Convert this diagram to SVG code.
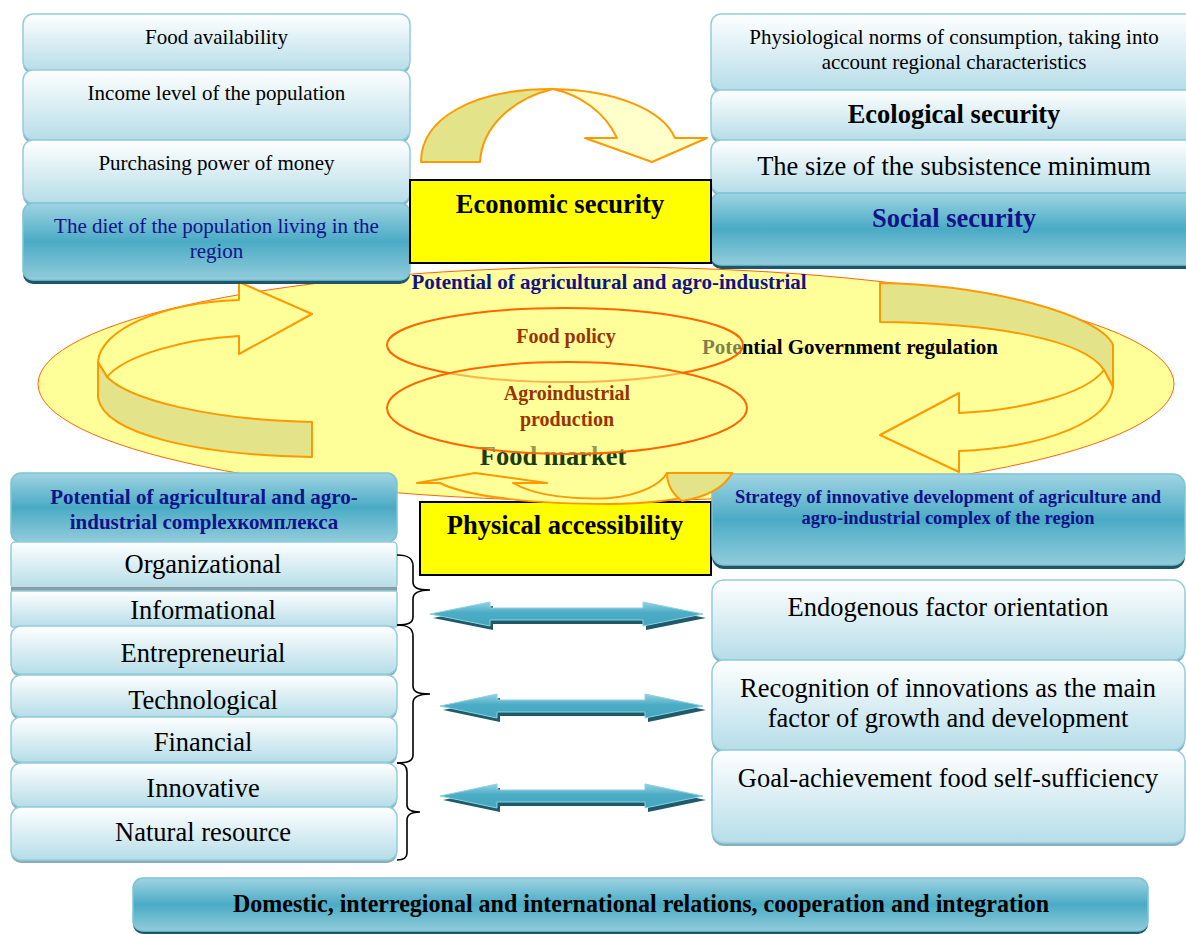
<svg xmlns="http://www.w3.org/2000/svg" width="1186" height="934" viewBox="0 0 1186 934">
<defs>
<linearGradient id="lg" x1="0" y1="0" x2="0" y2="1">
<stop offset="0" stop-color="#ffffff"/><stop offset="1" stop-color="#b6dde8"/>
</linearGradient>
<linearGradient id="dg" x1="0" y1="0" x2="0" y2="1">
<stop offset="0" stop-color="#a0d4e2"/><stop offset="0.5" stop-color="#4aabc5"/><stop offset="1" stop-color="#92ccdb"/>
</linearGradient>
<linearGradient id="ag" x1="0" y1="0" x2="0" y2="1">
<stop offset="0" stop-color="#92d2e2"/><stop offset="0.45" stop-color="#4bacc6"/><stop offset="1" stop-color="#45a6c0"/>
</linearGradient>
<style>
.lb{fill:url(#lg);stroke:#93cddd;stroke-width:1.5}
.db{fill:url(#dg);stroke:#7cc3d6;stroke-width:1.5}
.ls{fill:#86aebb}
.ds{fill:#1f5666}
.yb{fill:#ffff00;stroke:#000;stroke-width:2}
.t{font-family:"Liberation Serif","Times New Roman",serif;text-anchor:middle;fill:#000}
.b{font-weight:bold}
.nv{fill:#12128a}
.s21{font-size:21px}
.s26{font-size:26.5px}
.rib{stroke:#ff9900;stroke-width:2;stroke-linejoin:round}
.back{fill:#ffff99}
.front{fill:#e3e38a}
.ie{fill:#ffff99;fill-opacity:0.5;stroke:#ff6600;stroke-width:2}
.br{fill:none;stroke:#000;stroke-width:1.6}
.dash{fill:#1f5a6a}
.dar{fill:url(#ag);stroke:#8fd0e0;stroke-width:1}
</style>
</defs>

<g id="central-ellipse">
<ellipse cx="606" cy="384" rx="568" ry="117" fill="#ffff99" stroke="#ff6600" stroke-width="1"/>
</g>

<g id="cycle-arrows">
<path class="rib back" d="M239,282 L312,314 L239,354 L239,336 C185,339 125,355 107,377 L98,362 C100,330 160,303 239,300 Z"/>
<path class="rib front" d="M98,362 L98,398 C105,435 200,455 312,457 L312,422 C210,420 130,400 107,377 Z"/>
<path class="rib front" d="M880,283 C990,285 1100,315 1113,345 L1113,387 L1104,370 C1085,340 995,323 880,322 Z"/>
<path class="rib back" d="M1113,387 C1110,420 1050,447 959,451 L959,472 L880,435 L959,393 L959,413 C1020,410 1085,395 1104,370 Z"/>
</g>

<g id="potential-label">
<text class="t b nv s21" x="609" y="289">Potential of agricultural and agro-industrial</text>
</g>
<g id="government-regulation">
<text class="t b s21" x="850" y="354">Potential Government regulation</text>
</g>
<g id="food-market">
<text class="t b s26" x="553" y="465" style="fill:#1b3d0c">Food market</text>
</g>

<g id="food-policy">
<ellipse class="ie" cx="565" cy="345" rx="178" ry="37"/>
</g>
<g id="agroindustrial-production">
<ellipse class="ie" cx="567" cy="408" rx="180" ry="46"/>
</g>
<text class="t b" x="566" y="343" style="fill:#993300;font-size:20px">Food policy</text>
<text class="t b" x="567" y="400" style="fill:#993300;font-size:20px">Agroindustrial</text>
<text class="t b" x="567" y="426" style="fill:#993300;font-size:20px">production</text>

<g id="food-availability">
<rect class="ls" x="23" y="17" width="387" height="57" rx="10"/>
<rect class="lb" x="23" y="14" width="387" height="57" rx="10"/>
<text class="t s21" x="216.5" y="44">Food availability</text>
</g>
<g id="income-level">
<rect class="ls" x="23" y="73" width="387" height="70" rx="10"/>
<rect class="lb" x="23" y="70" width="387" height="70" rx="10"/>
<text class="t s21" x="216.5" y="100">Income level of the population</text>
</g>
<g id="purchasing-power">
<rect class="ls" x="23" y="143" width="387" height="63" rx="10"/>
<rect class="lb" x="23" y="140" width="387" height="63" rx="10"/>
<text class="t s21" x="216.5" y="170">Purchasing power of money</text>
</g>
<g id="diet">
<rect class="ds" x="23" y="207" width="387" height="77" rx="10"/>
<rect class="db" x="23" y="203" width="387" height="77" rx="10"/>
<text class="t s21 nv" x="216.5" y="233">The diet of the population living in the</text>
<text class="t s21 nv" x="216.5" y="258">region</text>
</g>

<g id="physiological-norms">
<rect class="ls" x="711" y="17" width="486" height="76" rx="10"/>
<rect class="lb" x="711" y="14" width="486" height="76" rx="10"/>
<text class="t s21" x="954" y="44">Physiological norms of consumption, taking into</text>
<text class="t s21" x="954" y="69">account regional characteristics</text>
</g>
<g id="ecological-security">
<rect class="ls" x="711" y="93" width="486" height="50" rx="10"/>
<rect class="lb" x="711" y="90" width="486" height="50" rx="10"/>
<text class="t b s26" x="954" y="123">Ecological security</text>
</g>
<g id="subsistence-minimum">
<rect class="ls" x="711" y="143" width="486" height="53" rx="10"/>
<rect class="lb" x="711" y="140" width="486" height="53" rx="10"/>
<text class="t s26" x="954" y="175">The size of the subsistence minimum</text>
</g>
<g id="social-security">
<rect class="ds" x="711" y="197" width="486" height="72" rx="10"/>
<rect class="db" x="711" y="193" width="486" height="72" rx="10"/>
<text class="t b s26 nv" x="954" y="227">Social security</text>
</g>

<g id="economic-security">
<rect class="yb" x="410" y="180" width="301" height="83"/>
<text class="t b s26" x="560" y="213">Economic security</text>
</g>

<g id="agro-potential-header">
<rect class="ds" x="11" y="477" width="386" height="66" rx="10"/>
<rect class="db" x="11" y="473" width="386" height="69" rx="10"/>
<text class="t b s21 nv" x="204" y="504">Potential of agricultural and agro-</text>
<text class="t b s21 nv" x="204" y="529">industrial complexкомплекса</text>
</g>
<g id="organizational">
<rect class="lb" x="11" y="542" width="386" height="46" rx="4"/>
<rect x="11" y="587" width="386" height="4" fill="#8a9ea6"/>
<text class="t s26" x="203" y="573">Organizational</text>
</g>
<g id="informational">
<rect class="lb" x="11" y="591" width="386" height="36" rx="2"/>
<text class="t s26" x="203" y="619">Informational</text>
</g>
<g id="entrepreneurial">
<rect class="ls" x="11" y="629" width="386" height="48" rx="10"/>
<rect class="lb" x="11" y="626" width="386" height="48" rx="10"/>
<text class="t s26" x="203" y="662">Entrepreneurial</text>
</g>
<g id="technological">
<rect class="ls" x="11" y="678" width="386" height="42" rx="10"/>
<rect class="lb" x="11" y="675" width="386" height="42" rx="10"/>
<text class="t s26" x="203" y="709">Technological</text>
</g>
<g id="financial">
<rect class="ls" x="11" y="720" width="386" height="45" rx="10"/>
<rect class="lb" x="11" y="717" width="386" height="45" rx="10"/>
<text class="t s26" x="203" y="751">Financial</text>
</g>
<g id="innovative">
<rect class="ls" x="11" y="766" width="386" height="44" rx="10"/>
<rect class="lb" x="11" y="763" width="386" height="44" rx="10"/>
<text class="t s26" x="203" y="797">Innovative</text>
</g>
<g id="natural-resource">
<rect class="ls" x="11" y="810" width="386" height="53" rx="10"/>
<rect class="lb" x="11" y="807" width="386" height="53" rx="10"/>
<text class="t s26" x="203" y="841">Natural resource</text>
</g>

<g id="physical-accessibility">
<rect class="yb" x="420" y="502" width="291" height="73"/>
<text class="t b s26" x="565" y="534">Physical accessibility</text>
</g>

<g id="strategy">
<rect class="ds" x="712" y="478" width="473" height="91" rx="12"/>
<rect class="db" x="712" y="474" width="473" height="91" rx="12"/>
<text class="t b nv" x="948" y="503" style="font-size:18.5px">Strategy of innovative development of agriculture and</text>
<text class="t b nv" x="948" y="524" style="font-size:18.5px">agro-industrial complex of the region</text>
</g>
<g id="endogenous">
<rect class="ls" x="712" y="583" width="473" height="80" rx="12"/>
<rect class="lb" x="712" y="580" width="473" height="80" rx="12"/>
<text class="t s26" x="948" y="616">Endogenous factor orientation</text>
</g>
<g id="recognition">
<rect class="ls" x="712" y="663" width="473" height="90" rx="12"/>
<rect class="lb" x="712" y="660" width="473" height="90" rx="12"/>
<text class="t s26" x="948" y="697">Recognition of innovations as the main</text>
<text class="t s26" x="948" y="727">factor of growth and development</text>
</g>
<g id="goal-achievement">
<rect class="ls" x="712" y="753" width="473" height="93" rx="12"/>
<rect class="lb" x="712" y="750" width="473" height="93" rx="12"/>
<text class="t s26" x="948" y="787">Goal-achievement food self-sufficiency</text>
</g>

<g id="relations">
<rect class="ds" x="133" y="881" width="1015" height="53" rx="10"/>
<rect class="db" x="133" y="878" width="1015" height="53" rx="10"/>
<text class="t b" x="641" y="912" style="font-size:25px" textLength="816" lengthAdjust="spacingAndGlyphs">Domestic, interregional and international relations, cooperation and integration</text>
</g>

<g id="connectors">
<path class="rib front" d="M421,162 C421,120 470,89 553,89 C515,98 482,125 480,162 Z"/>
<path class="rib" fill="#ffffcc" d="M553,89 C615,90 663,110 675,138 L707,138 L652,162 L585,138 L617,138 C605,112 580,95 553,89 Z"/>
<path class="rib back" d="M417,483 L475,473 L547,483 L513,483 C535,496 575,500 610,498 C640,495 660,485 667,473 L732,473 C720,492 680,503 610,504 C540,504 470,498 440,483 Z"/>
<path class="rib front" d="M667,473 L732,473 C724,488 705,497 682,501 C670,492 667,482 667,473 Z"/>

<path class="br" d="M397,555 C408,555 413,558 413,566 L413,582 C413,588 418,590 430,590 C418,590 413,593 413,599 L413,617 C413,623 408,625 397,625"/>
<path class="br" d="M397,625 C408,625 413,628 413,636 L413,686 C413,692 418,694 430,694 C418,694 413,697 413,703 L413,755 C413,761 408,763 397,763"/>
<path class="br" d="M397,763 C403,763 407,766 407,772 L407,805 C407,810 411,812 420,812 C411,812 407,815 407,820 L407,853 C407,858 403,860 397,860"/>

<g transform="translate(430,614)">
<path class="dash" transform="translate(3,4)" d="M0,0 L60,-12 L60,-6 L213,-6 L213,-12 L273,0 L213,12 L213,6 L60,6 L60,12 Z"/>
<path class="dar" d="M0,0 L60,-12 L60,-6 L213,-6 L213,-12 L273,0 L213,12 L213,6 L60,6 L60,12 Z"/>
</g>
<g transform="translate(440,706)">
<path class="dash" transform="translate(3,4)" d="M0,0 L57,-12 L57,-6 L205,-6 L205,-12 L263,0 L205,12 L205,6 L57,6 L57,12 Z"/>
<path class="dar" d="M0,0 L57,-12 L57,-6 L205,-6 L205,-12 L263,0 L205,12 L205,6 L57,6 L57,12 Z"/>
</g>
<g transform="translate(440,796)">
<path class="dash" transform="translate(3,4)" d="M0,0 L57,-12 L57,-6 L205,-6 L205,-12 L263,0 L205,12 L205,6 L57,6 L57,12 Z"/>
<path class="dar" d="M0,0 L57,-12 L57,-6 L205,-6 L205,-12 L263,0 L205,12 L205,6 L57,6 L57,12 Z"/>
</g>
</g>
</svg>
